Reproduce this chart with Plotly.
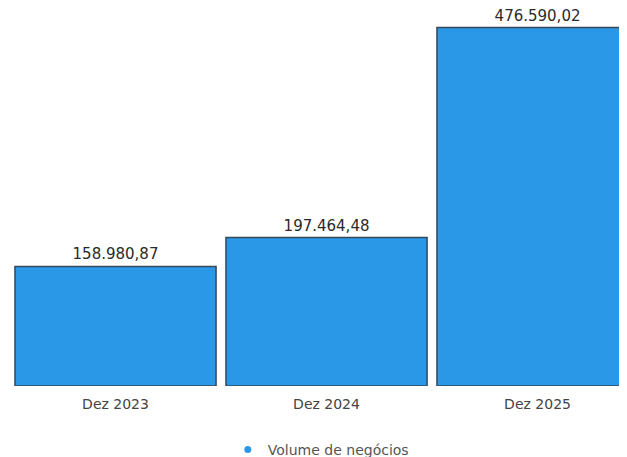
import plotly.graph_objects as go

categories = ["Dez 2023", "Dez 2024", "Dez 2025"]
values = [158980.87, 197464.48, 476590.02]
value_labels = ["158.980,87", "197.464,48", "476.590,02"]
series_name = "Volume de negócios"

BAR_COLOR = "#2B97E7"

fig = go.Figure()
fig.add_trace(go.Bar(
    x=categories, y=values, text=value_labels, textposition="outside",
    textfont=dict(family="DejaVu Sans", size=15, color="#2a2a2a"),
    cliponaxis=False,
    marker=dict(color=BAR_COLOR, line=dict(color="#34485c", width=1.5)),
    showlegend=False, hoverinfo="skip",
))
fig.add_trace(go.Scatter(
    x=[None], y=[None], mode="markers", name=series_name,
    marker=dict(symbol="circle", size=7, color=BAR_COLOR),
    showlegend=True,
))

fig.update_layout(
    width=619, height=457,
    margin=dict(l=2, r=0, t=2, b=79, autoexpand=False),
    paper_bgcolor="white", plot_bgcolor="white",
    bargap=0.047,
    xaxis=dict(range=[-0.5, 2.424], showgrid=False, zeroline=False,
               showline=False, ticks="", ticklabelstandoff=8, automargin=False,
               tickfont=dict(family="DejaVu Sans", size=14, color="#444444")),
    yaxis=dict(range=[0, 500000], visible=False, automargin=False),
    legend=dict(orientation="h", x=0.353, xanchor="left",
                yref="container", y=0.033, yanchor="middle",
                font=dict(family="DejaVu Sans", size=14, color="#555555")),
)

fig.write_html("out.html")
